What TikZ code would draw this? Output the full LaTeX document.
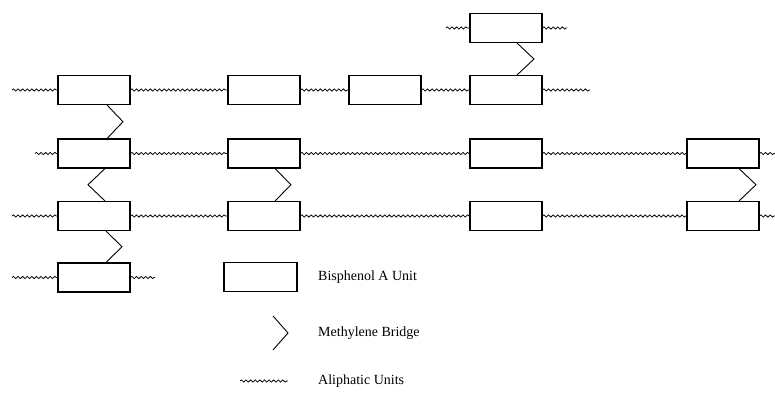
\documentclass[tikz,border=0pt]{standalone}
\usepackage{fontspec}
\setmainfont{Liberation Serif}
\usetikzlibrary{decorations.pathmorphing,calc}
\begin{document}
\begin{tikzpicture}[x=1pt,y=-1pt,
  unit/.style={draw,line width=1.05pt,rectangle,minimum width=72pt,minimum height=29pt,inner sep=0pt,fill=white},
  wavy/.style={line width=0.75pt,decorate,decoration={snake,segment length=4.6pt,amplitude=1.1pt}},
  bridge/.style={line width=0.9pt},
  lbl/.style={anchor=west,font=\fontsize{14}{16}\selectfont,inner sep=0pt}]
\useasboundingbox (0,0) rectangle (775,396);
% units
\node[unit] (t)  at (506,28) {};
\node[unit] (a1) at (94,90) {};
\node[unit] (a2) at (264,90) {};
\node[unit] (a3) at (385,90) {};
\node[unit] (a4) at (506,90) {};
\node[unit] (b1) at (94,153.5) {};
\node[unit] (b2) at (264,153.5) {};
\node[unit] (b4) at (506,153.5) {};
\node[unit] (b5) at (723,153.5) {};
\node[unit] (c1) at (94,216) {};
\node[unit] (c2) at (264,216) {};
\node[unit] (c4) at (506,216) {};
\node[unit] (c5) at (723,216) {};
\node[unit] (d1) at (94,277.5) {};
% free ends
\coordinate (tL) at (446,28);  \coordinate (tR) at (567,28);
\coordinate (aL) at (12,90);   \coordinate (aR) at (590,90);
\coordinate (bL) at (35,153.5); \coordinate (bR) at (775,153.5);
\coordinate (cL) at (12,216);  \coordinate (cR) at (775,216);
\coordinate (dL) at (12,277.5); \coordinate (dR) at (155,277.5);
% aliphatic chains
\draw[wavy] (tL) -- (t.west);  \draw[wavy] (t.east) -- (tR);
\draw[wavy] (aL) -- (a1.west); \draw[wavy] (a1.east) -- (a2.west); \draw[wavy] (a2.east) -- (a3.west); \draw[wavy] (a3.east) -- (a4.west); \draw[wavy] (a4.east) -- (aR);
\draw[wavy] (bL) -- (b1.west); \draw[wavy] (b1.east) -- (b2.west); \draw[wavy] (b2.east) -- (b4.west); \draw[wavy] (b4.east) -- (b5.west); \draw[wavy] (b5.east) -- (bR);
\draw[wavy] (cL) -- (c1.west); \draw[wavy] (c1.east) -- (c2.west); \draw[wavy] (c2.east) -- (c4.west); \draw[wavy] (c4.east) -- (c5.west); \draw[wavy] (c5.east) -- (cR);
\draw[wavy] (dL) -- (d1.west); \draw[wavy] (d1.east) -- (dR);
% methylene bridges
\draw[bridge] ([xshift=11pt]t.south) -- ($(t.south)!.5!(a4.north)+(28pt,0)$) -- ([xshift=11pt]a4.north);
\draw[bridge] ([xshift=13pt]a1.south) -- ($(a1.south)!.5!(b1.north)+(29pt,0)$) -- ([xshift=13pt]b1.north);
\draw[bridge] ([xshift=11pt]b1.south) -- ($(b1.south)!.5!(c1.north)+(-6pt,0)$) -- ([xshift=11pt]c1.north);
\draw[bridge] ([xshift=12pt]c1.south) -- ($(c1.south)!.5!(d1.north)+(28pt,0)$) -- ([xshift=12pt]d1.north);
\draw[bridge] ([xshift=11pt]b2.south) -- ($(b2.south)!.5!(c2.north)+(27pt,0)$) -- ([xshift=11pt]c2.north);
\draw[bridge] ([xshift=16pt]b5.south) -- ($(b5.south)!.5!(c5.north)+(33pt,0)$) -- ([xshift=16pt]c5.north);
% legend
\node[unit,minimum width=73pt] (lg) at (260.5,277) {};
\node[lbl] (l1) at (318,277) {Bisphenol A Unit};
\coordinate (m1) at (273,316); \coordinate (m2) at (288,333); \coordinate (m3) at (273,350);
\draw[bridge] (m1) -- (m2) -- (m3);
\node[lbl] (l2) at (318,333) {Methylene Bridge};
\coordinate (w1) at (240,381); \coordinate (w2) at (288,381);
\draw[wavy] (w1) -- (w2);
\node[lbl] (l3) at (318,381) {Aliphatic Units};
\end{tikzpicture}
\end{document}
